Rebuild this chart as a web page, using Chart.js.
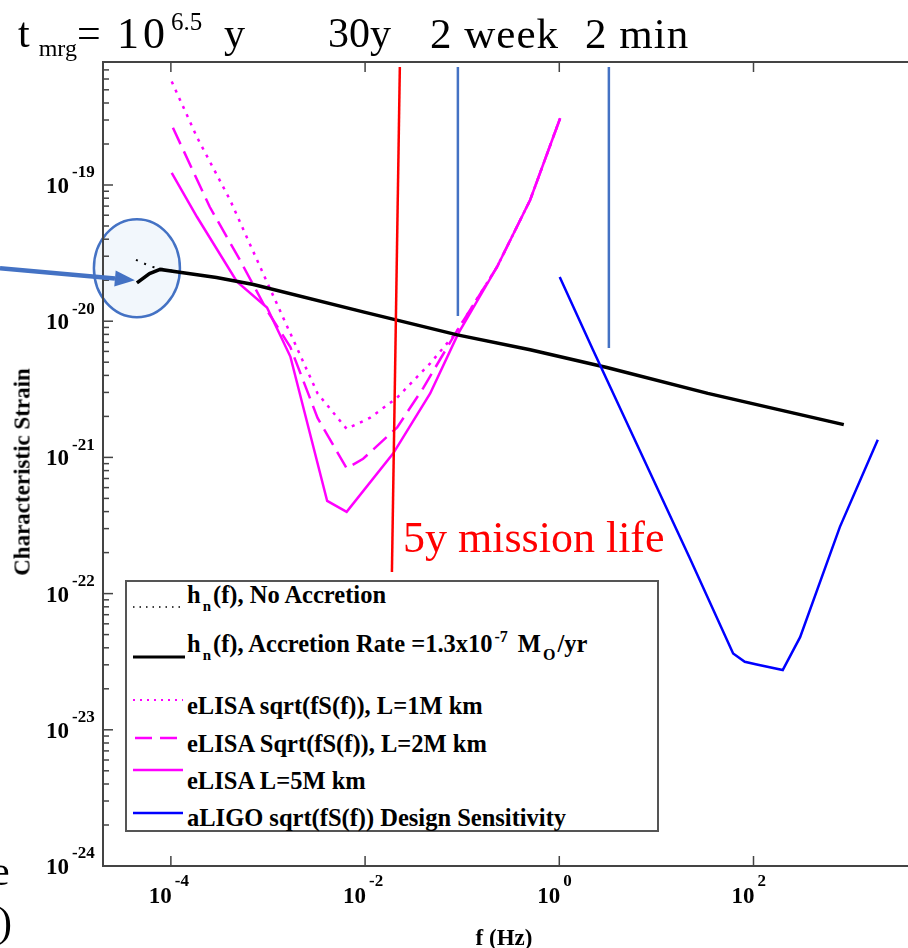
<!DOCTYPE html>
<html>
<head>
<meta charset="utf-8">
<script src="https://cdn.jsdelivr.net/npm/chart.js@4.4.1/dist/chart.umd.min.js"></script>
<style>
  html, body { margin: 0; padding: 0; background: #fff; overflow: hidden; }
  #wrap { position: relative; width: 908px; height: 948px; }
  canvas { position: absolute; left: 0; top: 0; }
  .t { position: absolute; white-space: nowrap; line-height: 1; font-family: "Liberation Serif", "Times New Roman", serif; color: #000; }
  .t span { line-height: 0; }
  .b { font-weight: bold; }
  #legend { position: absolute; left: 125px; top: 580px; width: 534px; height: 252px; box-sizing: border-box; border: 2px solid #555; background: #fff; }
  #samples { position: absolute; left: 0; top: 0; }
</style>
</head>
<body>
<div id="wrap">
  <canvas id="chart" width="908" height="948"></canvas>

  <!-- texte du slide autour du graphe -->
  <div class="t" style="left:18px;top:12px;font-size:42px">t<span style="font-size:24px;vertical-align:-9px;margin-left:9px">mrg</span>=</div>
  <div class="t" style="left:117px;top:12px;font-size:44px;letter-spacing:4px">10</div>
  <div class="t" style="left:171px;top:12px;font-size:42px"><span style="font-size:25px;vertical-align:17px">6.5</span></div>
  <div class="t" style="left:224px;top:12px;font-size:42px">y</div>
  <div class="t" style="left:328px;top:12px;font-size:42px">30y</div>
  <div class="t" style="left:430px;top:12px;font-size:43px;letter-spacing:1px">2 week</div>
  <div class="t" style="left:585px;top:12px;font-size:43px;letter-spacing:1px">2 min</div>
  <div class="t" style="left:403px;top:516px;font-size:44px;color:#ff0000">5y mission life</div>
  <div class="t" style="left:-9px;top:850px;font-size:42px">e</div>
  <div class="t" style="left:-2px;top:901px;font-size:42px">)</div>

  <!-- titres des axes -->
  <div class="t b" style="left:22px;top:472px;font-size:23px;transform:translate(-50%,-50%) rotate(-90deg)">Characteristic Strain</div>
  <div class="t b" style="left:504px;top:937px;font-size:23px;transform:translate(-50%,-50%)">f (Hz)</div>

  <!-- légende -->
  <div id="legend"></div>
  <div class="t b" style="left:187px;top:583px;font-size:24.5px">h<span style="font-size:15px;vertical-align:-8px;margin:0 2px">n</span>(f), No Accretion</div>
  <div class="t b" style="left:187px;top:632px;font-size:24.5px">h<span style="font-size:15px;vertical-align:-8px;margin:0 2px">n</span>(f), Accretion Rate =1.3x10<span style="font-size:16px;vertical-align:10px;margin:0 10px 0 2px">-7</span>M<span style="font-size:16px;vertical-align:-8px;margin:0 2px">O</span>/yr</div>
  <div class="t b" style="left:187px;top:694px;font-size:24.5px">eLISA sqrt(fS(f)), L=1M km</div>
  <div class="t b" style="left:187px;top:732px;font-size:24.5px">eLISA Sqrt(fS(f)), L=2M km</div>
  <div class="t b" style="left:187px;top:769px;font-size:24.5px">eLISA L=5M km</div>
  <div class="t b" style="left:187px;top:806px;font-size:24.5px">aLIGO sqrt(fS(f)) Design Sensitivity</div>
  <svg id="samples" width="908" height="948">
    <line x1="133" y1="607" x2="183" y2="607" stroke="#000" stroke-width="1.5" stroke-dasharray="1.5 5"/>
    <line x1="133" y1="657" x2="185" y2="657" stroke="#000" stroke-width="3"/>
    <line x1="133" y1="700" x2="183" y2="700" stroke="#ff00ff" stroke-width="2" stroke-dasharray="2 5"/>
    <line x1="135" y1="738" x2="180" y2="738" stroke="#ff00ff" stroke-width="2.5" stroke-dasharray="17 8"/>
    <line x1="133" y1="770" x2="183" y2="770" stroke="#ff00ff" stroke-width="2.5"/>
    <line x1="133" y1="813" x2="183" y2="813" stroke="#0000ff" stroke-width="2.5"/>
  </svg>
</div>

<script>
// ==========================
// DONNÉES
// ==========================
// h_n(f) avec accrétion
const accFreq   = [4.47e-5, 6.03e-5, 7.76e-5, 1.23e-4, 2.95e-4, 7.08e-4, 9.55e-3, 8.91e-2, 0.501, 3.09, 33.9, 851];
const accStrain = [1.91e-20, 2.24e-20, 2.40e-20, 2.29e-20, 2.09e-20, 1.86e-20, 1.17e-20, 7.94e-21, 6.17e-21, 4.57e-21, 2.95e-21, 1.74e-21];

// h_n(f) sans accrétion
const noAccFreq   = [4.37e-5, 6.31e-5, 1.23e-4, 2.95e-4, 7.08e-4, 9.55e-3, 8.91e-2, 0.501, 3.09, 33.9, 851];
const noAccStrain = [2.82e-20, 2.51e-20, 2.29e-20, 2.09e-20, 1.86e-20, 1.17e-20, 7.94e-21, 6.17e-21, 4.57e-21, 2.95e-21, 1.74e-21];

// eLISA, L = 1M km (pointillés)
const lisa1Freq   = [1.02e-4, 1.86e-4, 4.07e-4, 8.91e-4, 1.58e-3, 3.24e-3, 6.46e-3, 1.12e-2, 2.14e-2, 4.68e-2, 8.51e-2, 0.229, 0.501, 1.02];
const lisa1Strain = [5.75e-19, 2.24e-19, 7.76e-20, 2.24e-20, 9.12e-21, 2.95e-21, 1.62e-21, 1.95e-21, 2.75e-21, 4.90e-21, 8.13e-21, 2.51e-20, 7.76e-20, 3.09e-19];

// eLISA, L = 2M km (tirets)
const lisa2Freq   = [1.05e-4, 2.51e-4, 5.13e-4, 9.77e-4, 1.70e-3, 3.24e-3, 6.46e-3, 9.55e-3, 2.14e-2, 3.98e-2, 8.51e-2, 0.229, 0.501, 1.02];
const lisa2Strain = [2.63e-19, 6.92e-20, 2.82e-20, 1.20e-20, 6.46e-21, 1.95e-21, 8.32e-22, 9.77e-22, 1.66e-21, 3.24e-21, 8.13e-21, 2.51e-20, 7.76e-20, 3.09e-19];

// eLISA, L = 5M km (trait plein)
const lisa5Freq   = [1.02e-4, 1.86e-4, 4.79e-4, 9.77e-4, 1.70e-3, 4.07e-3, 6.46e-3, 1.95e-2, 4.68e-2, 9.12e-2, 0.229, 0.501, 1.02];
const lisa5Strain = [1.23e-19, 5.82e-20, 1.95e-20, 1.26e-20, 5.50e-21, 4.79e-22, 3.98e-22, 1.07e-21, 2.95e-21, 8.13e-21, 2.51e-20, 7.76e-20, 3.09e-19];

// aLIGO
const ligoFreq   = [1.01, 2.22, 6.76, 22.1, 61.7, 81.3, 108, 200, 302, 776, 1905];
const ligoStrain = [2.11e-20, 6.17e-21, 1.12e-21, 1.82e-22, 3.63e-23, 3.16e-23, 3.02e-23, 2.75e-23, 4.79e-23, 3.09e-22, 1.35e-21];

// repères verticaux (30y, 2 week, 2 min)
const redLineFreq   = [0.0228, 0.0189];
const redLineStrain = [7.35e-19, 1.44e-22];
const weekFreq   = [0.0903, 0.0903];
const weekStrain = [7.35e-19, 1.09e-20];
const minFreq    = [3.24, 3.24];
const minStrain  = [7.35e-19, 6.35e-21];

// cercle + flèche (en coordonnées des données)
const circleCenter = [4.47e-5, 2.45e-20];
const arrowTip     = [4.26e-5, 2.0e-20];

// axes
const xMin = 2.0e-5, xMax = 3.9e3;
const yMin = 1e-24,  yMax = 8.0e-19;
const xTickExps = [-4, -2, 0, 2];
const yTickExps = [-24, -23, -22, -21, -20, -19];

// ==========================
// OUTILS
// ==========================
function pts(fs, hs) {
  return fs.map((f, i) => ({ x: f, y: hs[i] }));
}

function serie(fs, hs, color, width, dash) {
  return {
    data: pts(fs, hs),
    borderColor: color,
    borderWidth: width,
    borderDash: dash || [],
    pointRadius: 0,
    tension: 0,
    fill: false
  };
}

// décor : cadre, graduations, libellés, cercle, flèche
const decoPlugin = {
  id: 'deco',
  beforeDatasetsDraw(chart) {
    const { ctx, scales: { x, y } } = chart;
    const cx = x.getPixelForValue(circleCenter[0]);
    const cy = y.getPixelForValue(circleCenter[1]);
    ctx.save();
    ctx.beginPath();
    ctx.ellipse(cx, cy, 43, 49, 0, 0, Math.PI * 2);
    ctx.fillStyle = '#f2f7fc';
    ctx.fill();
    ctx.lineWidth = 2.5;
    ctx.strokeStyle = '#4472c4';
    ctx.stroke();
    ctx.restore();
  },
  afterDatasetsDraw(chart) {
    const { ctx, chartArea: a, scales: { x, y } } = chart;
    ctx.save();

    // cadre (gauche, haut, bas)
    ctx.strokeStyle = '#444';
    ctx.lineWidth = 2;
    ctx.beginPath();
    ctx.moveTo(a.right + 2, a.top);
    ctx.lineTo(a.left, a.top);
    ctx.lineTo(a.left, a.bottom);
    ctx.lineTo(a.right + 2, a.bottom);
    ctx.stroke();

    // graduations Y (majeures + mineures, vers l'intérieur)
    ctx.lineWidth = 1.5;
    for (let e = -25; e <= -18; e++) {
      for (let m = 1; m <= 9; m++) {
        const v = m * Math.pow(10, e);
        if (v < yMin * 0.999 || v > yMax) continue;
        const py = y.getPixelForValue(v);
        ctx.beginPath();
        ctx.moveTo(a.left, py);
        ctx.lineTo(a.left + (m === 1 ? 10 : 6), py);
        ctx.stroke();
      }
    }

    // graduations X (bas et haut)
    xTickExps.forEach(e => {
      const px = x.getPixelForValue(Math.pow(10, e));
      ctx.beginPath();
      ctx.moveTo(px, a.bottom); ctx.lineTo(px, a.bottom - 10);
      ctx.moveTo(px, a.top);    ctx.lineTo(px, a.top + 10);
      ctx.stroke();
    });

    // libellés 10^n
    ctx.fillStyle = '#000';
    ctx.textBaseline = 'middle';
    yTickExps.forEach(e => {
      const py = y.getPixelForValue(Math.pow(10, e));
      ctx.font = 'bold 23px "Liberation Serif"';
      ctx.textAlign = 'right';
      ctx.fillText('10', 69, py + 2);
      ctx.font = 'bold 17px "Liberation Serif"';
      ctx.textAlign = 'left';
      ctx.fillText(String(e), 72, py - 12);
    });
    xTickExps.forEach(e => {
      const px = x.getPixelForValue(Math.pow(10, e));
      ctx.font = 'bold 23px "Liberation Serif"';
      ctx.textAlign = 'right';
      ctx.fillText('10', px + 1, a.bottom + 31);
      ctx.font = 'bold 17px "Liberation Serif"';
      ctx.textAlign = 'left';
      ctx.fillText(String(e), px + 4, a.bottom + 16);
    });

    // flèche bleue vers le cercle
    const tx = x.getPixelForValue(arrowTip[0]);
    const ty = y.getPixelForValue(arrowTip[1]);
    const sx = 0, sy = ty - 12;
    const ang = Math.atan2(ty - sy, tx - sx);
    const head = 20, half = 8;
    const bx = tx - head * Math.cos(ang), by = ty - head * Math.sin(ang);
    ctx.strokeStyle = '#4472c4';
    ctx.fillStyle = '#4472c4';
    ctx.lineWidth = 4.5;
    ctx.beginPath();
    ctx.moveTo(sx, sy);
    ctx.lineTo(bx, by);
    ctx.stroke();
    ctx.beginPath();
    ctx.moveTo(tx, ty);
    ctx.lineTo(bx + half * Math.sin(ang), by - half * Math.cos(ang));
    ctx.lineTo(bx - half * Math.sin(ang), by + half * Math.cos(ang));
    ctx.closePath();
    ctx.fill();

    ctx.restore();
  }
};

// ==========================
// GRAPHIQUE
// ==========================
new Chart(document.getElementById('chart'), {
  type: 'line',
  data: {
    datasets: [
      serie(redLineFreq, redLineStrain, '#ff0000', 2.5),
      serie(weekFreq, weekStrain, '#4472c4', 2.5),
      serie(minFreq, minStrain, '#4472c4', 2.5),
      serie(ligoFreq, ligoStrain, '#0000ff', 2.5),
      serie(accFreq, accStrain, '#000000', 3.5),
      serie(noAccFreq, noAccStrain, '#000000', 2, [2, 7]),
      serie(lisa5Freq, lisa5Strain, '#ff00ff', 2.5),
      serie(lisa2Freq, lisa2Strain, '#ff00ff', 2.5, [18, 8]),
      serie(lisa1Freq, lisa1Strain, '#ff00ff', 2.5, [3, 6])
    ]
  },
  options: {
    responsive: false,
    animation: false,
    devicePixelRatio: 1,
    layout: { padding: { left: 103, top: 62, right: 0, bottom: 82 } },
    plugins: { legend: { display: false }, tooltip: { enabled: false } },
    scales: {
      x: { type: 'logarithmic', min: xMin, max: xMax, display: false },
      y: { type: 'logarithmic', min: yMin, max: yMax, display: false }
    }
  },
  plugins: [decoPlugin]
});
</script>
</body>
</html>
